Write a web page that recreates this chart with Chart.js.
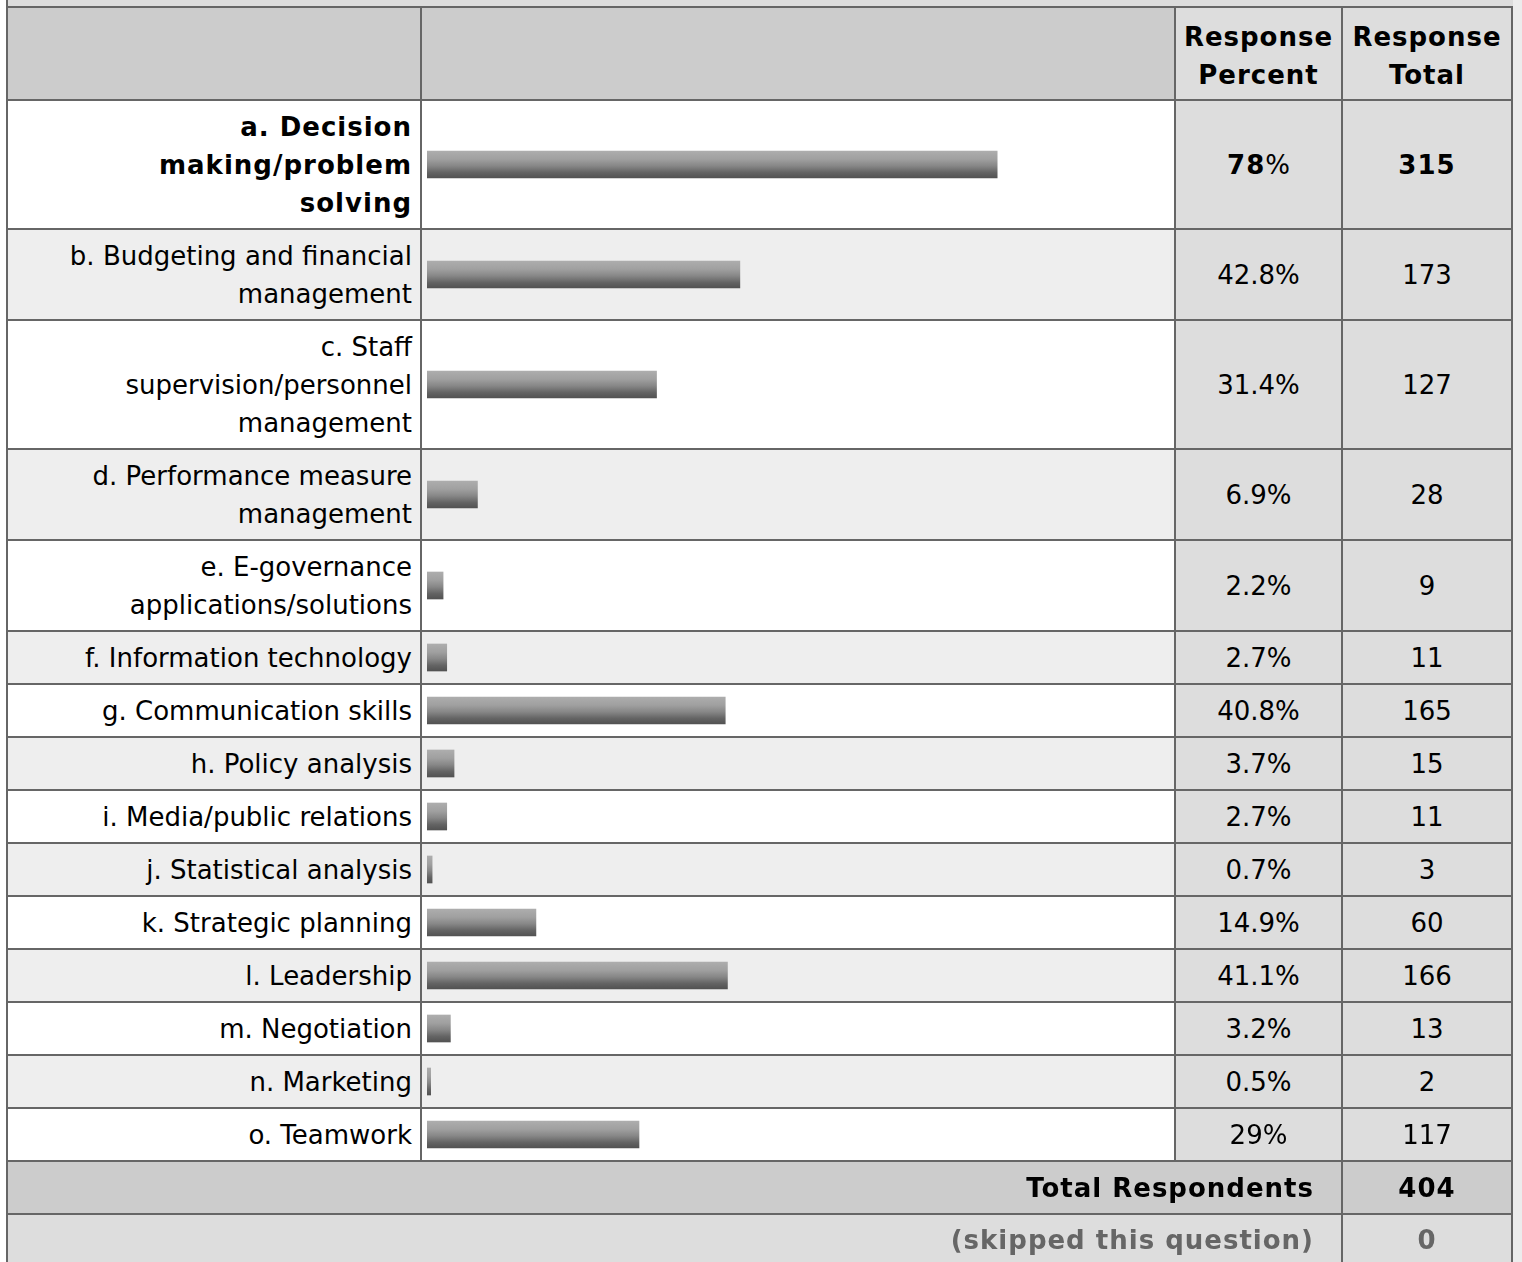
<!DOCTYPE html>
<html>
<head>
<meta charset="utf-8">
<script src="https://cdn.jsdelivr.net/npm/chart.js@4/dist/chart.umd.min.js"></script>
<style>
  html, body { margin: 0; padding: 0; background: #fff; }
  body { width: 1522px; height: 1262px; overflow: hidden; position: relative;
         font-family: "DejaVu Sans", sans-serif; font-size: 26px; color: #000; }
  #strip { position: absolute; left: 6px; top: 0; width: 1505px; height: 6px; background: #ddd; border-left: 2px solid #666; }
  #side { position: absolute; left: 1513px; top: 0; width: 9px; height: 1262px; background: #ececec; }
  #grid { position: absolute; left: 6px; top: 6px; padding: 2px; background: #666; display: grid;
          grid-template-columns: 412px 752px 165px 168px; gap: 2px; }
  .cell { display: flex; align-items: center; line-height: 38px; white-space: pre; }
  .lab { justify-content: flex-end; text-align: right; padding-right: 8px; }
  .num { justify-content: center; text-align: center; background: #ddd; }
  .bar { padding-left: 5px; align-items: center; }
  .b { font-weight: bold; letter-spacing: 1px; }
  .hd { padding-top: 5px; }
  canvas { display: block; }
</style>
</head>
<body>
<div id="strip"></div>
<div id="side"></div>
<div id="grid"></div>
<script>
const headers = ['Response\nPercent', 'Response\nTotal'];
const labels = [
  'a. Decision\nmaking/problem\nsolving',
  'b. Budgeting and financial\nmanagement',
  'c. Staff\nsupervision/personnel\nmanagement',
  'd. Performance measure\nmanagement',
  'e. E-governance\napplications/solutions',
  'f. Information technology',
  'g. Communication skills',
  'h. Policy analysis',
  'i. Media/public relations',
  'j. Statistical analysis',
  'k. Strategic planning',
  'l. Leadership',
  'm. Negotiation',
  'n. Marketing',
  'o. Teamwork'
];
const percents = [78, 42.8, 31.4, 6.9, 2.2, 2.7, 40.8, 3.7, 2.7, 0.7, 14.9, 41.1, 3.2, 0.5, 29];
const totals = [315, 173, 127, 28, 9, 11, 165, 15, 11, 3, 60, 166, 13, 2, 117];
const respondents = 404;
const skipped = 0;

const grid = document.getElementById('grid');
const rowHeights = [];
const topRow = percents.indexOf(Math.max(...percents));

function cell(cls, text, bg, extra) {
  const d = document.createElement('div');
  d.className = 'cell ' + cls;
  if (text != null) d.textContent = text;
  if (bg) d.style.background = bg;
  if (extra) Object.assign(d.style, extra);
  grid.appendChild(d);
  return d;
}

// header row
rowHeights.push(91);
cell('', null, '#ccc');
cell('', null, '#ccc');
cell('num b hd', headers[0], '#ddd');
cell('num b hd', headers[1], '#ddd');

// banded grey fill, light on top, dark at the bottom
function barGradient(ctx) {
  const chart = ctx.chart;
  const area = chart.chartArea;
  if (!area) return '#777';
  const cy = (area.top + area.bottom) / 2;
  const g = chart.ctx.createLinearGradient(0, cy - 13.5, 0, cy + 13.5);
  g.addColorStop(0, '#adadad');
  g.addColorStop(0.3, '#a0a0a0');
  g.addColorStop(0.55, '#878787');
  g.addColorStop(0.8, '#636363');
  g.addColorStop(1, '#525252');
  return g;
}

labels.forEach((lab, i) => {
  const lines = lab.split('\n').length;
  const h = 13 + 38 * lines;
  rowHeights.push(h);
  const bg = i % 2 === 0 ? '#fff' : '#eee';
  const bold = i === topRow;
  cell('lab' + (bold ? ' b' : ''), lab, bg);
  const barCell = cell('bar', null, bg);
  const cv = document.createElement('canvas');
  cv.width = 731; cv.height = h;
  cv.style.width = '731px'; cv.style.height = h + 'px';
  barCell.appendChild(cv);
  new Chart(cv, {
    type: 'bar',
    data: { labels: [lab], datasets: [{ data: [percents[i]], backgroundColor: barGradient, borderWidth: 0, barThickness: 27 }] },
    options: {
      indexAxis: 'y', responsive: false, animation: false, events: [],
      layout: { padding: 0 },
      plugins: { legend: { display: false }, tooltip: { enabled: false } },
      scales: { x: { display: false, min: 0, max: 100 }, y: { display: false } }
    }
  });
  const pc = cell('num', null, '#ddd');
  if (bold) {
    const s = document.createElement('span');
    s.className = 'b';
    s.textContent = String(percents[i]);
    pc.appendChild(s);
    pc.appendChild(document.createTextNode('%'));
  } else {
    pc.textContent = percents[i] + '%';
  }
  cell('num' + (bold ? ' b' : ''), String(totals[i]), '#ddd');
});

rowHeights.push(51);
cell('lab b', 'Total Respondents', '#ccc', { gridColumn: 'span 3', paddingRight: '27px' });
cell('num b', String(respondents), '#ccc');
rowHeights.push(60);
cell('lab b', '(skipped this question)', '#ddd', { gridColumn: 'span 3', paddingRight: '27px', color: '#666', alignItems: 'flex-start', paddingTop: '6px' });
cell('num b', String(skipped), '#ddd', { color: '#666', alignItems: 'flex-start', paddingTop: '6px' });

grid.style.gridTemplateRows = rowHeights.map(h => h + 'px').join(' ');
</script>
</body>
</html>
